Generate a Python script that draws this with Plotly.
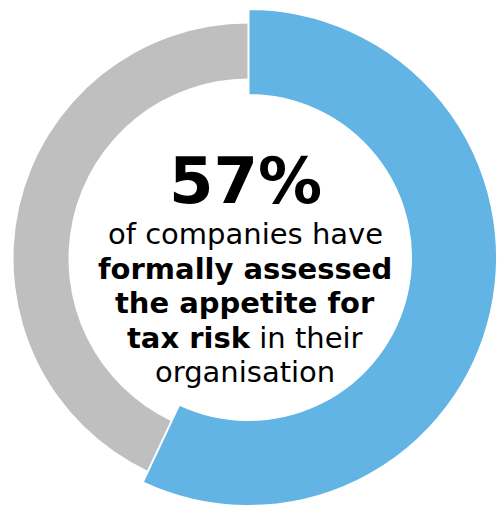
import plotly.graph_objects as go

# share of companies that have formally assessed their tax risk appetite
labels = ["Assessed", "Not assessed"]
values = [57, 43]
headline = "57%"
caption_lines = [
    "of companies have",
    "<b>formally assessed</b>",
    "<b>the appetite for</b>",
    "<b>tax risk</b> in their",
    "organisation",
]

BLUE = "#62B4E4"
GREY = "#BFBFBF"
CLEAR = "rgba(0,0,0,0)"
W, H = 497, 510
FONT = "Verdana, DejaVu Sans, sans-serif"

fig = go.Figure()

# thinner grey ring, drawn first
fig.add_trace(go.Pie(
    labels=labels, values=values, sort=False, direction="clockwise", rotation=0,
    hole=0.766, textinfo="none", hoverinfo="skip", showlegend=False,
    marker=dict(colors=[CLEAR, GREY], line=dict(width=0)),
    domain=dict(x=[13.5 / W, 1 - 13.5 / W], y=[16.5 / H, 486.5 / H]),
))

# thick blue ring on top
fig.add_trace(go.Pie(
    labels=labels, values=values, sort=False, direction="clockwise", rotation=0,
    hole=0.654, textinfo="none", hoverinfo="skip", showlegend=False,
    marker=dict(colors=[BLUE, CLEAR], line=dict(color=["white", CLEAR], width=[2, 0])),
    domain=dict(x=[0, 1], y=[0, 505 / H]),
))

cx = 245 / W
fig.add_annotation(x=cx, y=1 - 181 / H, xref="paper", yref="paper", text=f"<b>{headline}</b>",
                   showarrow=False, yanchor="middle", font=dict(family=FONT, size=64, color="black"))

line_y = [234, 268.5, 303, 337.5, 372]
for i, (txt, yy) in enumerate(zip(caption_lines, line_y)):
    fig.add_annotation(x=cx, y=1 - yy / H, xref="paper", yref="paper", text=txt,
                       name=f"line{i}", showarrow=False, yanchor="middle",
                       font=dict(family=FONT, size=29, color="black"))

fig.update_layout(
    width=W, height=H,
    margin=dict(l=0, r=0, t=0, b=0),
    paper_bgcolor="white", plot_bgcolor="white",
)

# drop the browser's default body margin so the figure sits at the page corner
fig.write_html("out.html", config={"displayModeBar": False},
               post_script="document.body.style.margin='0';")
